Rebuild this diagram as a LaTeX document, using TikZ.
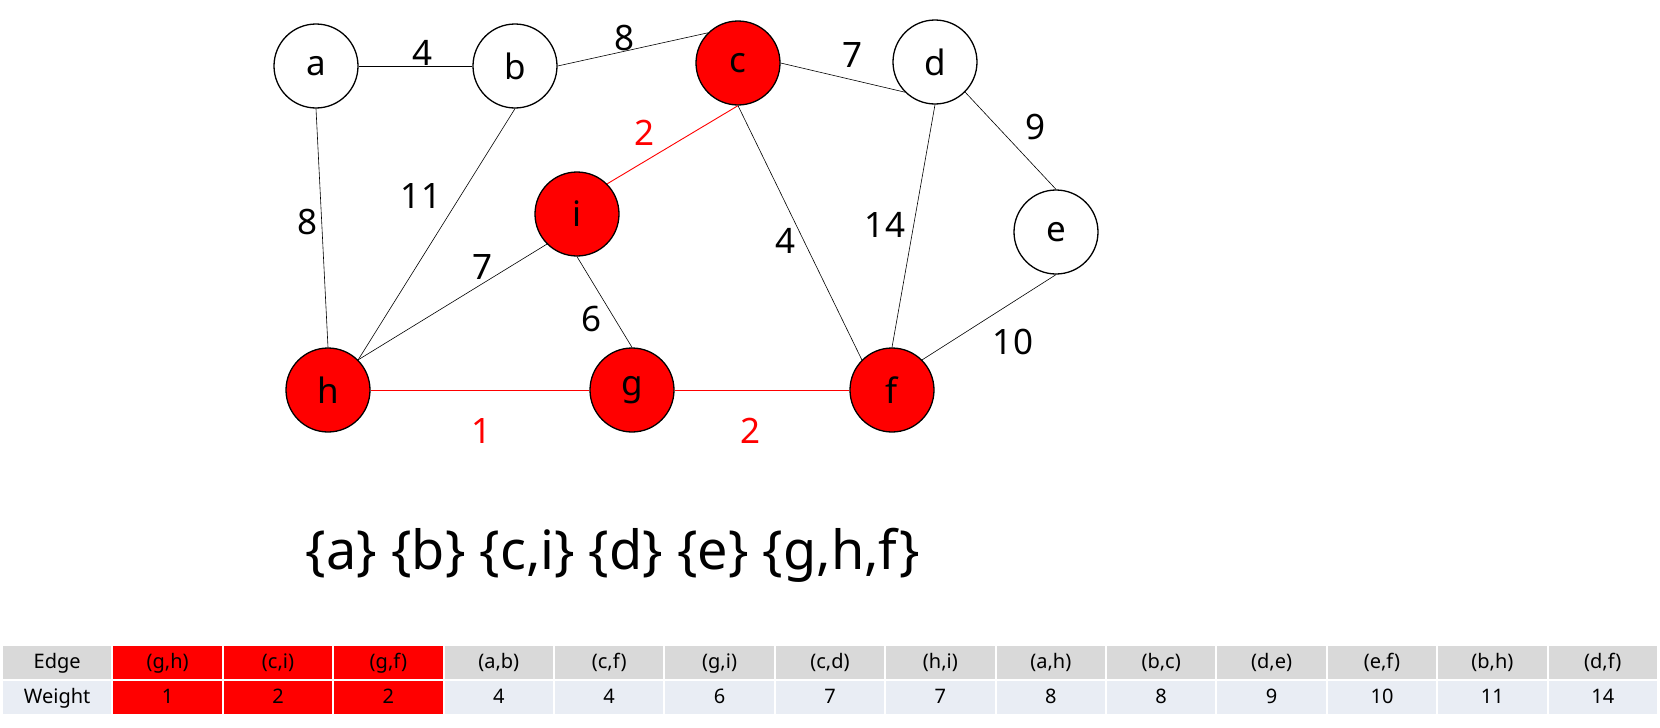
\documentclass[tikz,border=0pt]{standalone}
\usepackage{fontspec}
\setmainfont{Noto Sans}
\definecolor{headgray}{HTML}{D9D9D9}
\definecolor{rowblue}{HTML}{E9EDF4}
\begin{document}
\begin{tikzpicture}[x=1pt,y=-1pt,
 vert/.style={circle, draw=black, line width=1.3pt, minimum size=84pt, inner sep=0pt, font=\fontsize{35}{40}\selectfont},
 sel/.style={vert, fill=red},
 wlabel/.style={font=\fontsize{35}{40}\selectfont, inner sep=0pt},
 redlabel/.style={wlabel, text=red},
 edge/.style={draw=black, line width=0.6pt},
 redge/.style={draw=red, line width=0.9pt},
 cell/.style={draw=white, line width=2pt, minimum width=110.4pt, minimum height=35pt, inner sep=0pt, text height=15pt, text depth=4pt, font=\fontsize{20}{24}\selectfont},
 hcell/.style={cell, fill=headgray},
 wcell/.style={cell, fill=rowblue},
 rcell/.style={cell, fill=red},
]
\useasboundingbox (0,0) rectangle (1660,728);
% vertices
\node[vert] (a) at (316,66) {a};
\node[vert] (b) at (515,66) {b};
\node[sel]  (c) at (738,63) {c};
\node[vert] (d) at (935,62) {d};
\node[vert] (e) at (1056,232) {e};
\node[sel]  (i) at (577,214) {i};
\node[sel]  (h) at (328,390) {h};
\node[sel]  (g) at (632,390) {g};
\node[sel]  (f) at (892,390) {f};
% edges
\draw[edge] (a.east) -- (b.west);
\draw[edge] (b.east) -- (c.north west);
\draw[edge] (c.east) -- (d.south west);
\draw[edge] (d.south east) -- (e.north);
\draw[edge] (d.south) -- (f.north);
\draw[edge] (c.south) -- (f.north west);
\draw[redge] (c.south) -- (i.north east);
\draw[edge] (b.south) -- (h.north east);
\draw[edge] (a.south) -- (h.north);
\draw[edge] (h.north east) -- (i.south west);
\draw[edge] (i.south) -- (g.north);
\draw[edge] (e.south) -- (f.north east);
\draw[redge] (h.east) -- (g.west);
\draw[redge] (g.east) -- (f.west);
% weights
\node[wlabel] (lab) at (423,53) {4};
\node[wlabel] (lbc) at (625,38) {8};
\node[wlabel] (lcd) at (853,55) {7};
\node[wlabel] (lde) at (1035,127) {9};
\node[wlabel] (ldf) at (885,225) {14};
\node[wlabel] (lcf) at (786,241) {4};
\node[redlabel] (lci) at (645,133) {2};
\node[wlabel] (lbh) at (421,196) {11};
\node[wlabel] (lah) at (308,222) {8};
\node[wlabel] (lhi) at (483,267) {7};
\node[wlabel] (lig) at (592,319) {6};
\node[wlabel] (lef) at (1013,342) {10};
\node[redlabel] (lhg) at (482,431) {1};
\node[redlabel] (lgf) at (751,431) {2};
% sets
\node[font=\fontsize{54}{62}\selectfont, inner sep=0pt] (sets) at (613,555) {\{a\} \{b\} \{c,i\} \{d\} \{e\} \{g,h,f\}};
% table
\node[hcell] (h0) at (57.2,662.5) {Edge};
\node[rcell] (h1) at (167.6,662.5) {(g,h)};
\node[rcell] (h2) at (278,662.5) {(c,i)};
\node[rcell] (h3) at (388.4,662.5) {(g,f)};
\node[hcell] (h4) at (498.8,662.5) {(a,b)};
\node[hcell] (h5) at (609.2,662.5) {(c,f)};
\node[hcell] (h6) at (719.6,662.5) {(g,i)};
\node[hcell] (h7) at (830,662.5) {(c,d)};
\node[hcell] (h8) at (940.4,662.5) {(h,i)};
\node[hcell] (h9) at (1050.8,662.5) {(a,h)};
\node[hcell] (h10) at (1161.2,662.5) {(b,c)};
\node[hcell] (h11) at (1271.6,662.5) {(d,e)};
\node[hcell] (h12) at (1382,662.5) {(e,f)};
\node[hcell] (h13) at (1492.4,662.5) {(b,h)};
\node[hcell] (h14) at (1602.8,662.5) {(d,f)};
\node[wcell] (w0) at (57.2,697.5) {Weight};
\node[rcell] (w1) at (167.6,697.5) {1};
\node[rcell] (w2) at (278,697.5) {2};
\node[rcell] (w3) at (388.4,697.5) {2};
\node[wcell] (w4) at (498.8,697.5) {4};
\node[wcell] (w5) at (609.2,697.5) {4};
\node[wcell] (w6) at (719.6,697.5) {6};
\node[wcell] (w7) at (830,697.5) {7};
\node[wcell] (w8) at (940.4,697.5) {7};
\node[wcell] (w9) at (1050.8,697.5) {8};
\node[wcell] (w10) at (1161.2,697.5) {8};
\node[wcell] (w11) at (1271.6,697.5) {9};
\node[wcell] (w12) at (1382,697.5) {10};
\node[wcell] (w13) at (1492.4,697.5) {11};
\node[wcell] (w14) at (1602.8,697.5) {14};
\end{tikzpicture}
\end{document}
